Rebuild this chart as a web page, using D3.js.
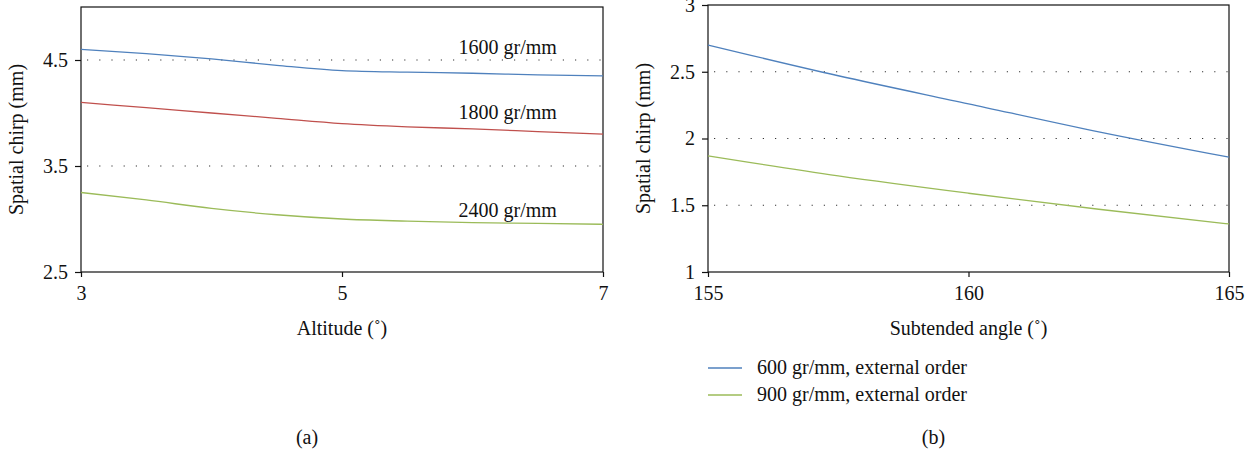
<!DOCTYPE html>
<html>
<head>
    <script src="https://d3js.org/d3.v7.min.js"></script>
    <style>
        html, body { margin: 0; background: #fff; overflow: hidden; }
        svg text { font-family: "Liberation Serif", "Times New Roman", serif !important; fill: #111; }
    </style>
</head>
<body>
<svg id="chart" width="1256" height="451"></svg>
<script>
    // (a) spatial chirp vs altitude
    const altitude = [3, 3.5, 4, 4.5, 5, 5.5, 6, 6.5, 7];
    const chirp1600 = [4.60, 4.56, 4.51, 4.45, 4.40, 4.385, 4.375, 4.36, 4.35];
    const chirp1800 = [4.10, 4.05, 4.00, 3.95, 3.90, 3.87, 3.85, 3.825, 3.80];
    const chirp2400 = [3.25, 3.18, 3.10, 3.04, 3.00, 2.98, 2.965, 2.958, 2.95];
    const seriesA = ["1600 gr/mm", "1800 gr/mm", "2400 gr/mm"];
    const yTicksA = [2.5, 3.5, 4.5];
    const xTicksA = [3, 5, 7];

    // (b) spatial chirp vs subtended angle
    const angle = [155, 157.5, 160, 162.5, 165];
    const chirp600 = [2.70, 2.47, 2.26, 2.05, 1.86];
    const chirp900 = [1.87, 1.72, 1.59, 1.47, 1.36];
    const seriesB = ["600 gr/mm, external order", "900 gr/mm, external order"];
    const yTicksB = [1, 1.5, 2, 2.5, 3];
    const xTicksB = [155, 160, 165];

    const blue = "#4f81bd", red = "#c0504d", green = "#9bbb59";
    const svg = d3.select("#chart");
    const fs = 20;

    function panel(o) {
        const x = d3.scaleLinear().domain(o.xDomain).range([o.left, o.right]);
        const y = d3.scaleLinear().domain(o.yDomain).range([o.bottom, o.top]);
        const g = svg.append("g");

        // dotted gridlines
        g.selectAll(".grid").data(o.grid).join("line")
            .attr("x1", o.left + 6).attr("x2", o.right)
            .attr("y1", d => y(d)).attr("y2", d => y(d))
            .attr("stroke", "#333").attr("stroke-width", 1.2)
            .attr("stroke-dasharray", "1.2 11");

        // frame
        g.append("rect")
            .attr("x", o.left).attr("y", o.top)
            .attr("width", o.right - o.left).attr("height", o.bottom - o.top)
            .attr("fill", "none").attr("stroke", "#111").attr("stroke-width", 1.2);

        const xAxis = g.append("g").attr("transform", `translate(0,${o.bottom})`)
            .call(d3.axisBottom(x).tickValues(o.xTicks).tickSize(5).tickPadding(9).tickFormat(d3.format("d")));
        const yAxis = g.append("g").attr("transform", `translate(${o.left},0)`)
            .call(d3.axisLeft(y).tickValues(o.yTicks).tickSize(6).tickPadding(7).tickFormat(d => String(d)));
        [xAxis, yAxis].forEach(a => {
            a.select(".domain").remove();
            a.selectAll("line").attr("stroke", "#111").attr("stroke-width", 1.2);
            a.selectAll("text").attr("font-size", fs).attr("fill", "#111");
        });

        const line = d3.line().x(d => x(d[0])).y(d => y(d[1])).curve(d3.curveMonotoneX);
        o.series.forEach(s => {
            g.append("path")
                .datum(o.xs.map((v, i) => [v, s.values[i]]))
                .attr("fill", "none").attr("stroke", s.color).attr("stroke-width", 1.3)
                .attr("d", line);
        });

        g.append("text")
            .attr("x", (o.left + o.right) / 2).attr("y", o.bottom + 63)
            .attr("text-anchor", "middle").attr("font-size", fs).text(o.xTitle);
        g.append("text")
            .attr("transform", `translate(${o.left - 58},${(o.top + o.bottom) / 2}) rotate(-90)`)
            .attr("text-anchor", "middle").attr("font-size", fs).text("Spatial chirp (mm)");
        g.append("text")
            .attr("x", (o.left + o.right) / 2 - 35).attr("y", 444)
            .attr("text-anchor", "middle").attr("font-size", fs).text(o.caption);
        return {x, y};
    }

    const a = panel({
        left: 81, right: 603, top: 7, bottom: 272,
        xDomain: [3, 7], yDomain: [2.5, 5],
        xTicks: xTicksA, yTicks: yTicksA, grid: [3.5, 4.5],
        xs: altitude,
        series: [
            {values: chirp1600, color: blue},
            {values: chirp1800, color: red},
            {values: chirp2400, color: green}
        ],
        xTitle: "Altitude (˚)", caption: "(a)"
    });

    // inline series labels for (a)
    const labelPos = [[6.27, 4.56], [6.27, 3.94], [6.27, 3.02]];
    svg.append("g").selectAll("text").data(seriesA).join("text")
        .attr("x", (d, i) => a.x(labelPos[i][0])).attr("y", (d, i) => a.y(labelPos[i][1]))
        .attr("text-anchor", "middle").attr("font-size", fs).text(d => d);

    panel({
        left: 708, right: 1229, top: 5, bottom: 272,
        xDomain: [155, 165], yDomain: [1, 3],
        xTicks: xTicksB, yTicks: yTicksB, grid: [1.5, 2, 2.5],
        xs: angle,
        series: [
            {values: chirp600, color: blue},
            {values: chirp900, color: green}
        ],
        xTitle: "Subtended angle (˚)", caption: "(b)"
    });

    // legend for (b)
    const legend = svg.append("g").attr("transform", "translate(708,368)");
    const legendColors = [blue, green];
    seriesB.forEach((name, i) => {
        const row = legend.append("g").attr("transform", `translate(0,${i * 27})`);
        row.append("line").attr("x1", 0).attr("x2", 34).attr("y1", 0).attr("y2", 0)
            .attr("stroke", legendColors[i]).attr("stroke-width", 1.3);
        row.append("text").attr("x", 49).attr("y", 6).attr("font-size", fs).text(name);
    });
</script>
</body>
</html>
